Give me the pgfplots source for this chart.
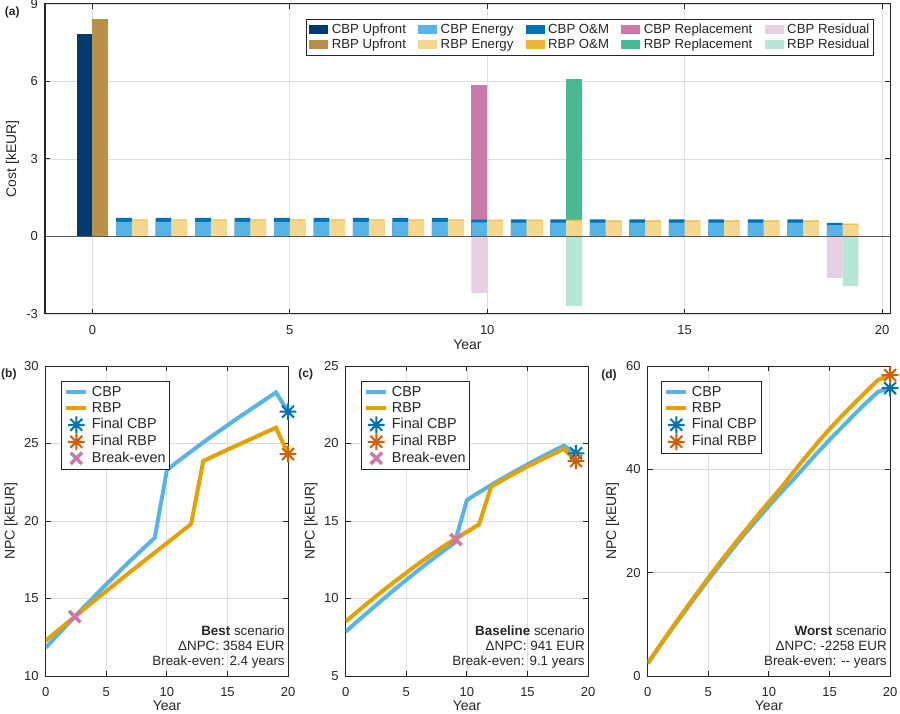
\documentclass[border=0pt]{standalone}
\usepackage{fontspec}
\setmainfont{Liberation Sans}
\usepackage{pgfplots}
\pgfplotsset{compat=1.18}

\definecolor{cbpup}{RGB}{0,59,111}
\definecolor{rbpup}{RGB}{184,144,74}
\definecolor{cbpen}{RGB}{86,180,233}
\definecolor{rbpen}{RGB}{245,216,142}
\definecolor{cbpom}{RGB}{0,114,178}
\definecolor{rbpom}{RGB}{237,180,60}
\definecolor{cbprep}{RGB}{204,121,167}
\definecolor{rbprep}{RGB}{72,185,145}
\definecolor{cbpres}{RGB}{230,209,228}
\definecolor{rbpres}{RGB}{184,230,214}
\definecolor{lcbp}{RGB}{86,180,233}
\definecolor{lrbp}{RGB}{230,160,0}
\definecolor{scbp}{RGB}{0,114,178}
\definecolor{srbp}{RGB}{213,94,0}
\definecolor{bev}{RGB}{204,121,167}
\definecolor{axc}{RGB}{38,38,38}

\pgfdeclareplotmark{mstar}{%
  \pgfpathmoveto{\pgfqpoint{-\pgfplotmarksize}{0pt}}%
  \pgfpathlineto{\pgfqpoint{\pgfplotmarksize}{0pt}}%
  \pgfpathmoveto{\pgfqpoint{0pt}{-\pgfplotmarksize}}%
  \pgfpathlineto{\pgfqpoint{0pt}{\pgfplotmarksize}}%
  \pgfpathmoveto{\pgfqpoint{-.7071\pgfplotmarksize}{-.7071\pgfplotmarksize}}%
  \pgfpathlineto{\pgfqpoint{.7071\pgfplotmarksize}{.7071\pgfplotmarksize}}%
  \pgfpathmoveto{\pgfqpoint{-.7071\pgfplotmarksize}{.7071\pgfplotmarksize}}%
  \pgfpathlineto{\pgfqpoint{.7071\pgfplotmarksize}{-.7071\pgfplotmarksize}}%
  \pgfusepathqstroke}

\tikzset{
  note/.style={anchor=south east, align=right, inner sep=0pt, xshift=-1.5pt, yshift=3.5pt,
    font=\fontsize{6.7}{7.6}\selectfont, text=axc},
  plab/.style={anchor=east, inner sep=0pt, font=\bfseries\fontsize{6}{7}\selectfont, text=axc},
}

\pgfplotsset{
  mat/.style={
    scale only axis,
    axis line style={draw=axc, line width=0.5pt},
    every tick/.style={draw=axc, line width=0.5pt},
    tick align=inside,
    major tick length=2.5pt,
    grid=major,
    major grid style={draw=black!13, line width=0.4pt},
    tick label style={font=\fontsize{6.5}{7}\selectfont, text=axc},
    xticklabel style={yshift=-2.2pt},
    label style={font=\fontsize{7}{8}\selectfont, text=axc},
    xlabel style={at={(axis description cs:0.5,0)}, anchor=center, yshift=-15.5pt},
    /pgf/number format/assume math mode=true,
  },
  npc/.style={
    mat,
    anchor=south west, width=121.2pt, height=155pt,
    xmin=0, xmax=20, xtick={0,5,10,15,20},
    xlabel={Year}, ylabel={NPC [kEUR]},
    xlabel style={yshift=0.5pt},
    ylabel style={at={([xshift=-17.3pt]axis description cs:0,0.5)}, anchor=center},
    legend cell align=left,
    legend image code/.code={\draw[mark repeat=2,mark phase=2,##1] plot coordinates {(0pt,0pt) (5pt,0pt) (10pt,0pt)};},
    legend style={at={(0,1)}, anchor=north west, xshift=7.6pt, yshift=-7.5pt,
      draw=axc, line width=0.4pt, fill=white, inner sep=1.5pt, row sep=0.1pt,
      font=\fontsize{7.2}{8}\selectfont, text=axc,
      nodes={inner sep=0.6pt, text height=5.2pt, text depth=1.5pt},
      /tikz/every odd column/.append style={column sep=1.2pt}},
  },
  lc/.style={color=lcbp, line width=2pt},
  lr/.style={color=lrbp, line width=2pt},
  sc/.style={only marks, mark=mstar, mark size=4.2pt, color=scbp, line width=1pt},
  sr/.style={only marks, mark=mstar, mark size=4.2pt, color=srbp, line width=1pt},
  bevn/.style={only marks, mark=x, mark size=4pt, color=bev, line width=1.7pt},
}

\begin{document}
\begin{tikzpicture}
\useasboundingbox (0,0) rectangle (450pt,356.5pt);

% ---------------- (a) ----------------
\begin{axis}[mat,
  at={(22.5pt,199.5pt)}, anchor=south west, width=422.5pt, height=155pt,
  xmin=-1.2, xmax=20.2, ymin=-3, ymax=9,
  xtick={0,5,10,15,20}, ytick={-3,0,3,6,9},
  xlabel={Year}, ylabel={Cost [kEUR]},
  ylabel style={at={([xshift=-16.2pt]axis description cs:0,0.5)}, anchor=center},
  legend columns=5, legend cell align=left,
  legend image code/.code={\fill[#1] (0pt,-2.25pt) rectangle (9.5pt,2.25pt);},
  legend style={at={(1,1)}, anchor=north east, xshift=-8pt, yshift=-7.5pt,
    draw=axc, line width=0.4pt, fill=white, inner sep=1.5pt, row sep=0.1pt,
    font=\fontsize{6.6}{7.5}\selectfont, text=axc,
    nodes={inner sep=0.6pt, text height=4.8pt, text depth=1.4pt},
    /tikz/every odd column/.append style={column sep=1.2pt},
    /tikz/every even column/.append style={column sep=5.5pt}},
]
\addlegendimage{fill=cbpup, draw=none}\addlegendentry{CBP Upfront}
\addlegendimage{fill=cbpen, draw=none}\addlegendentry{CBP Energy}
\addlegendimage{fill=cbpom, draw=none}\addlegendentry{CBP O\&M}
\addlegendimage{fill=cbprep, draw=none}\addlegendentry{CBP Replacement}
\addlegendimage{fill=cbpres, draw=none}\addlegendentry{CBP Residual}
\addlegendimage{fill=rbpup, draw=none}\addlegendentry{RBP Upfront}
\addlegendimage{fill=rbpen, draw=none}\addlegendentry{RBP Energy}
\addlegendimage{fill=rbpom, draw=none}\addlegendentry{RBP O\&M}
\addlegendimage{fill=rbprep, draw=none}\addlegendentry{RBP Replacement}
\addlegendimage{fill=rbpres, draw=none}\addlegendentry{RBP Residual}

% upfront (year 0)
\addplot[ybar, bar width=0.4, bar shift=0pt, fill=cbpup, draw=none, forget plot]
  coordinates {(-0.2,7.85)};
\addplot[ybar, bar width=0.4, bar shift=0pt, fill=rbpup, draw=none, forget plot]
  coordinates {(0.2,8.43)};
% replacement (stack top)
\addplot[ybar, bar width=0.4, bar shift=0pt, fill=cbprep, draw=none, forget plot]
  coordinates {(9.8,5.88)};
\addplot[ybar, bar width=0.4, bar shift=0pt, fill=rbprep, draw=none, forget plot]
  coordinates {(12.2,6.10)};
% O&M (stack top = energy + O&M)
\addplot[ybar, bar width=0.4, bar shift=0pt, fill=cbpom, draw=none, forget plot]
  coordinates {(0.8,0.72)(1.8,0.72)(2.8,0.72)(3.8,0.72)(4.8,0.72)(5.8,0.72)(6.8,0.72)(7.8,0.72)(8.8,0.72)
  (9.8,0.65)(10.8,0.66)(11.8,0.66)(12.8,0.66)(13.8,0.66)(14.8,0.66)(15.8,0.66)(16.8,0.66)(17.8,0.66)(18.8,0.53)};
\addplot[ybar, bar width=0.4, bar shift=0pt, fill=rbpom, draw=none, forget plot]
  coordinates {(1.2,0.66)(2.2,0.66)(3.2,0.66)(4.2,0.66)(5.2,0.66)(6.2,0.66)(7.2,0.66)(8.2,0.66)(9.2,0.66)
  (10.2,0.65)(11.2,0.65)(12.2,0.65)(13.2,0.62)(14.2,0.62)(15.2,0.62)(16.2,0.62)(17.2,0.62)(18.2,0.62)(19.2,0.50)};
% energy
\addplot[ybar, bar width=0.4, bar shift=0pt, fill=cbpen, draw=none, forget plot]
  coordinates {(0.8,0.57)(1.8,0.57)(2.8,0.57)(3.8,0.57)(4.8,0.57)(5.8,0.57)(6.8,0.57)(7.8,0.57)(8.8,0.57)
  (9.8,0.55)(10.8,0.54)(11.8,0.54)(12.8,0.54)(13.8,0.54)(14.8,0.54)(15.8,0.54)(16.8,0.54)(17.8,0.54)(18.8,0.44)};
\addplot[ybar, bar width=0.4, bar shift=0pt, fill=rbpen, draw=none, forget plot]
  coordinates {(1.2,0.62)(2.2,0.62)(3.2,0.62)(4.2,0.62)(5.2,0.62)(6.2,0.62)(7.2,0.62)(8.2,0.62)(9.2,0.62)
  (10.2,0.61)(11.2,0.61)(12.2,0.61)(13.2,0.58)(14.2,0.58)(15.2,0.58)(16.2,0.58)(17.2,0.58)(18.2,0.58)(19.2,0.46)};
% residual (negative)
\addplot[ybar, bar width=0.4, bar shift=0pt, fill=cbpres, draw=none, forget plot]
  coordinates {(9.8,-2.19)(18.8,-1.60)};
\addplot[ybar, bar width=0.4, bar shift=0pt, fill=rbpres, draw=none, forget plot]
  coordinates {(12.2,-2.70)(19.2,-1.92)};
% baseline
\addplot[black!65, line width=0.5pt, forget plot] coordinates {(-1.2,0) (20.2,0)};
\end{axis}

% ---------------- (b) ----------------
\begin{axis}[npc, at={(22.85pt,18.5pt)}, ymin=10, ymax=30, ytick={10,15,20,25,30}]
\addplot[lc] coordinates {(0,11.83)(1,12.67)(2,13.50)(3,14.32)(4,15.12)(5,15.91)(6,16.69)(7,17.45)(8,18.19)(9,18.92)
  (10,23.29)(11,23.90)(12,24.49)(13,25.07)(14,25.63)(15,26.18)(16,26.72)(17,27.25)(18,27.77)(19,28.30)(20,27.05)};
\addlegendentry{CBP}
\addplot[lr] coordinates {(0,12.28)(1,12.93)(2,13.575)(3,14.215)(4,14.85)(5,15.48)(6,16.105)(7,16.73)(8,17.35)(9,17.965)
  (10,18.575)(11,19.19)(12,19.81)(13,23.87)(14,24.24)(15,24.60)(16,24.96)(17,25.31)(18,25.67)(19,26.02)(20,24.32)};
\addlegendentry{RBP}
\addplot[sc] coordinates {(20,27.05)};
\addlegendentry{Final CBP}
\addplot[sr] coordinates {(20,24.32)};
\addlegendentry{Final RBP}
\addplot[bevn] coordinates {(2.4,13.83)};
\addlegendentry{Break-even}
\node[note] at (rel axis cs:1,0) {\textbf{Best} scenario\\ΔNPC: 3584 EUR\\Break-even: 2.4 years};
\end{axis}

% ---------------- (c) ----------------
\begin{axis}[npc, at={(172.85pt,18.5pt)}, ymin=5, ymax=25, ytick={5,10,15,20,25}]
\addplot[lc] coordinates {(0,7.86)(1,8.55)(2,9.23)(3,9.90)(4,10.56)(5,11.20)(6,11.83)(7,12.45)(8,13.03)(9,13.60)
  (10,16.35)(11,16.85)(12,17.32)(13,17.78)(14,18.22)(15,18.65)(16,19.07)(17,19.47)(18,19.86)(19,19.37)};
\addlegendentry{CBP}
\addplot[lr] coordinates {(0,8.51)(1,9.18)(2,9.83)(3,10.46)(4,11.07)(5,11.66)(6,12.24)(7,12.80)(8,13.33)(9,13.82)
  (10,14.30)(11,14.78)(12,17.21)(13,17.67)(14,18.10)(15,18.52)(16,18.90)(17,19.28)(18,19.65)(19,18.87)};
\addlegendentry{RBP}
\addplot[sc] coordinates {(19,19.37)};
\addlegendentry{Final CBP}
\addplot[sr] coordinates {(19,18.87)};
\addlegendentry{Final RBP}
\addplot[bevn] coordinates {(9.1,13.80)};
\addlegendentry{Break-even}
\node[note] at (rel axis cs:1,0) {\textbf{Baseline} scenario\\ΔNPC: 941 EUR\\Break-even: 9.1 years};
\end{axis}

% ---------------- (d) ----------------
\begin{axis}[npc, at={(323.85pt,18.5pt)}, ymin=0, ymax=60, ytick={0,20,40,60},
  ylabel style={at={([xshift=-17.6pt]axis description cs:0,0.5)}, anchor=center},
  legend style={xshift=-1pt}]
\addplot[lc] coordinates {(0,2.45)(1,5.8)(2,9.1)(3,12.3)(4,15.5)(5,18.6)(6,21.6)(7,24.6)(8,27.5)(9,30.2)
  (10,32.9)(11,35.5)(12,38.0)(13,40.6)(14,43.2)(15,45.7)(16,48.1)(17,50.5)(18,52.8)(19,55.0)(20,55.7)};
\addlegendentry{CBP}
\addplot[lr] coordinates {(0,2.45)(1,5.9)(2,9.3)(3,12.6)(4,15.8)(5,19.0)(6,22.1)(7,25.1)(8,28.0)(9,30.9)
  (10,33.7)(11,36.4)(12,39.4)(13,42.3)(14,45.1)(15,47.8)(16,50.3)(17,52.7)(18,55.0)(19,57.3)(20,58.2)};
\addlegendentry{RBP}
\addplot[sc] coordinates {(20,55.7)};
\addlegendentry{Final CBP}
\addplot[sr] coordinates {(20,58.25)};
\addlegendentry{Final RBP}
\node[note] at (rel axis cs:1,0) {\textbf{Worst} scenario\\ΔNPC: -2258 EUR\\Break-even: -{}- years};
\end{axis}

\node[plab] at (10pt,350.15pt) {(a)};
\node[plab, anchor=west] at (0.4pt,169.5pt) {(b)};
\node[plab] at (156.75pt,169.5pt) {(c)};
\node[plab] at (308.5pt,169pt) {(d)};
\end{tikzpicture}
\end{document}
